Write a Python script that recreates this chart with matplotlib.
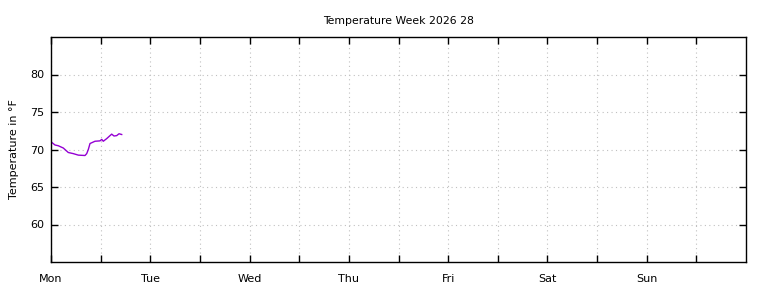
#!/usr/bin/env python3
import numpy as np
import matplotlib
matplotlib.use("Agg")
import matplotlib.pyplot as plt

# hours since Monday 00:00 and temperature readings (°F)
hours = [0.0, 0.17, 0.97, 1.76, 2.97, 4.18, 5.39, 6.60, 8.22, 8.63, 9.02,
         9.43, 9.84, 10.64, 11.84, 12.26, 12.64, 13.46, 14.67, 15.23,
         15.88, 16.44, 17.09]
temps = [71.1, 70.95, 70.6, 70.5, 70.2, 69.6, 69.45, 69.25, 69.2, 69.45, 70.0,
         70.8, 70.9, 71.1, 71.15, 71.35, 71.1, 71.45, 72.05, 71.8,
         71.85, 72.1, 72.0]

day_labels = ['Mon', 'Tue', 'Wed', 'Thu', 'Fri', 'Sat', 'Sun']
y_ticks = [60, 65, 70, 75, 80]


def main():
    fig = plt.figure(figsize=(7.68, 2.88), dpi=100)
    ax = fig.add_axes([51 / 768, 1 - 262 / 288, 695 / 768, 225 / 288])

    ax.plot(hours, temps, color='#9400D3', linewidth=1)

    ax.set_xlim(0, 168)
    ax.set_ylim(55, 85)

    major = np.arange(0, 168, 24)
    minor = np.arange(12, 168, 24)
    ax.set_xticks(major)
    ax.set_xticklabels(day_labels)
    ax.set_xticks(minor, minor=True)
    ax.set_yticks(y_ticks)

    ax.tick_params(axis='both', which='both', direction='in', length=5,
                   width=1, top=True, right=True, labelsize=8, colors='black')
    ax.tick_params(axis='x', which='major', pad=9)
    ax.tick_params(axis='y', pad=5)

    ax.grid(True, which='both', color='#c0c0c0', linestyle=(0, (1, 3)),
            linewidth=0.8)
    for s in ax.spines.values():
        s.set_linewidth(1)
        s.set_color('black')

    ax.set_ylabel('Temperature in °F', fontsize=8, labelpad=8)
    ax.set_title('Temperature Week 2026 28', fontsize=7.8, pad=9)

    fig.savefig('out.png', dpi=100)


if __name__ == "__main__":
    main()
